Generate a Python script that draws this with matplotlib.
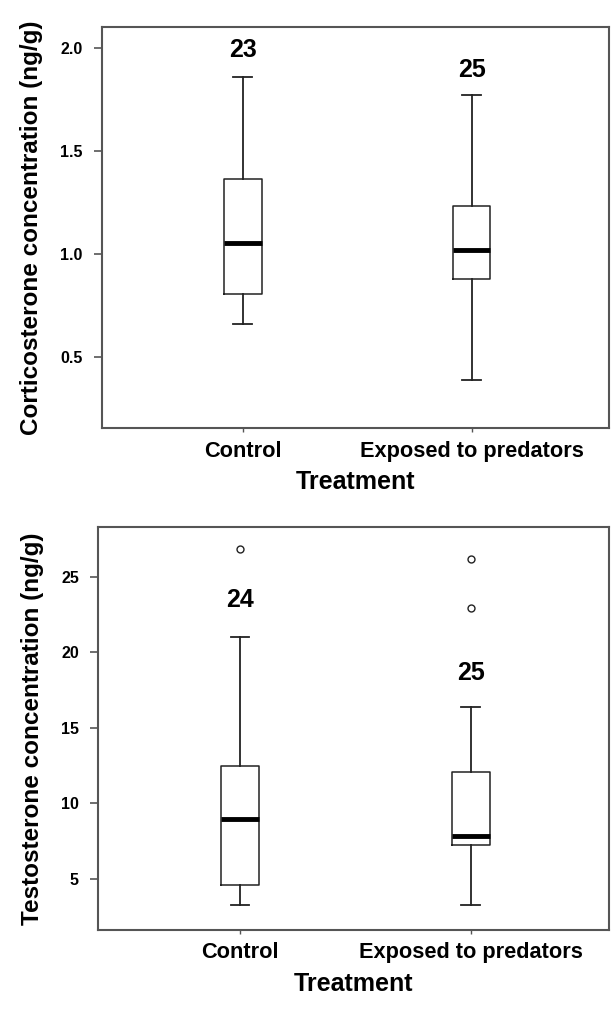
import matplotlib
matplotlib.use("Agg")
import matplotlib.pyplot as plt

plt.rcParams['font.family'] = ['Liberation Sans', 'DejaVu Sans']
plt.rcParams['font.weight'] = 'bold'

# Data
groups = ["Control", "Exposed to predators"]

cort_whislo = [0.66, 0.39]
cort_q1 = [0.805, 0.877]
cort_med = [1.055, 1.019]
cort_q3 = [1.361, 1.232]
cort_whishi = [1.859, 1.769]
cort_fliers = [[], []]
cort_n = [23, 25]
cort_n_y = [1.99, 1.89]

test_whislo = [3.26, 3.26]
test_q1 = [4.58, 7.22]
test_med = [8.96, 7.84]
test_q3 = [12.51, 12.05]
test_whishi = [21.03, 16.39]
test_fliers = [[26.81], [26.17, 22.91]]
test_n = [24, 25]
test_n_y = [23.46, 18.6]


def make_stats(lo, q1, med, q3, hi, fl):
    return [dict(whislo=lo[i], q1=q1[i], med=med[i], q3=q3[i], whishi=hi[i],
                 fliers=fl[i]) for i in range(len(lo))]


def draw(ax, stats, ns, n_y, ylabel, yticks, yticklabels, ylim):
    ax.bxp(stats, positions=[1, 2], widths=0.165, showfliers=True,
           boxprops=dict(color='#222222', linewidth=1.1),
           whiskerprops=dict(color='#222222', linewidth=1.3),
           capprops=dict(color='#222222', linewidth=1.3),
           medianprops=dict(color='black', linewidth=3.5),
           flierprops=dict(marker='o', markersize=5, markerfacecolor='none',
                           markeredgecolor='#222222', markeredgewidth=1.0),
           capwidths=0.08)
    for x, n, y in zip([1, 2], ns, n_y):
        ax.text(x, y, str(n), ha='center', va='center', fontsize=18,
                fontweight='bold')
    ax.set_xlim(0.386, 2.6)
    ax.set_ylim(*ylim)
    ax.set_xticks([1, 2])
    ax.set_xticklabels(groups, fontsize=15.7, fontweight='bold')
    ax.set_yticks(yticks)
    ax.set_yticklabels(yticklabels, fontsize=11.5, fontweight='bold')
    ax.tick_params(axis='y', length=6, width=1.2, color='#555555', pad=8)
    ax.tick_params(axis='x', length=3, width=1.0, color='#555555', pad=6)
    for s in ax.spines.values():
        s.set_color('#555555')
        s.set_linewidth(1.5)
    ax.set_xlabel("Treatment", fontsize=18, fontweight='bold', labelpad=6)
    ax.set_ylabel(ylabel, fontsize=17.5, fontweight='bold', labelpad=12)


fig = plt.figure(figsize=(6.11, 10.09), dpi=100)
ax1 = fig.add_axes([0.167, 0.5758, 0.8297, 0.3974])
ax2 = fig.add_axes([0.161, 0.0783, 0.8357, 0.3997])

draw(ax1, make_stats(cort_whislo, cort_q1, cort_med, cort_q3, cort_whishi, cort_fliers),
     cort_n, cort_n_y, "Corticosterone concentration (ng/g)",
     [0.5, 1.0, 1.5, 2.0], ["0.5", "1.0", "1.5", "2.0"], (0.156, 2.10))
draw(ax2, make_stats(test_whislo, test_q1, test_med, test_q3, test_whishi, test_fliers),
     test_n, test_n_y, "Testosterone concentration (ng/g)",
     [5, 10, 15, 20, 25], ["5", "10", "15", "20", "25"], (1.63, 28.31))

fig.savefig("out.png", dpi=100)
